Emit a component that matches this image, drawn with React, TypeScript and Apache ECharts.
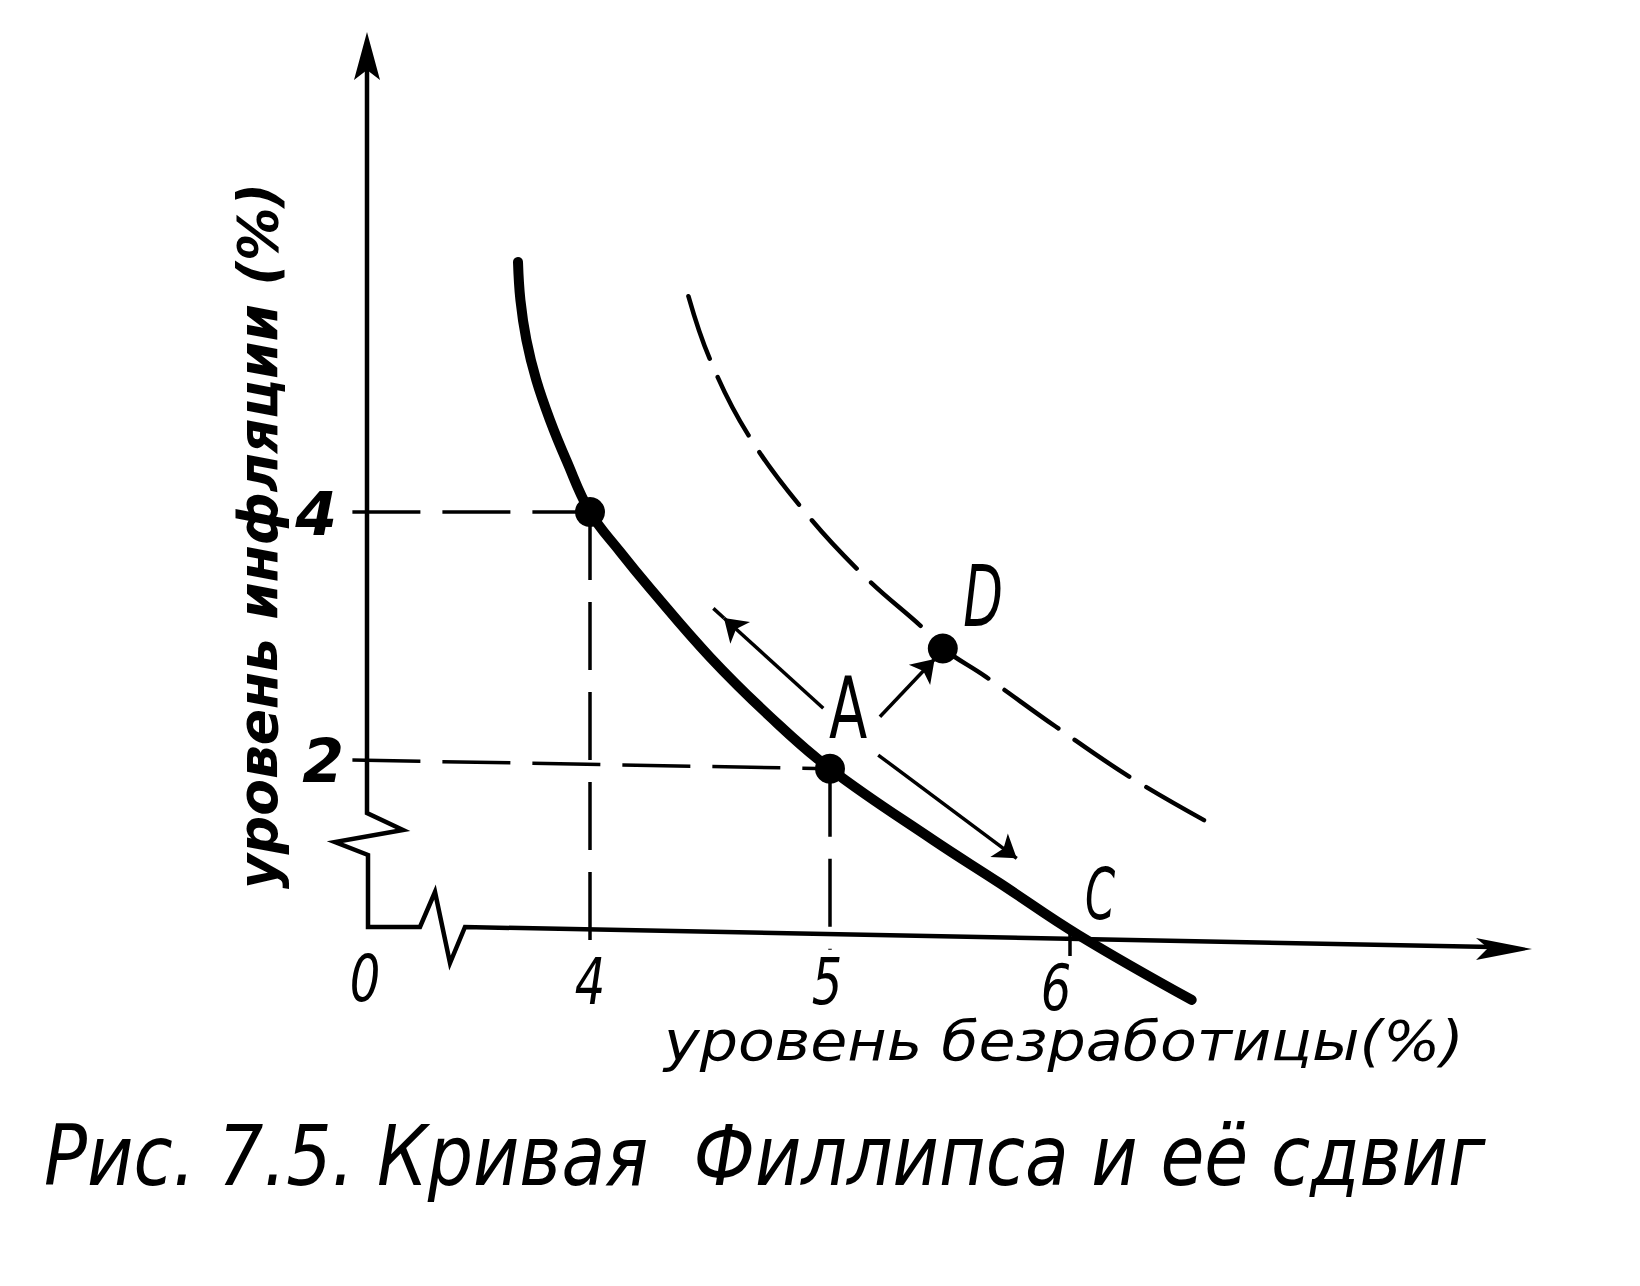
import React, { useEffect, useRef } from 'react';
import * as echarts from 'echarts';

// ---------- data ----------
const xTickLabels = ['0', '4', '5', '6'];
const xTickValues = [null, 4, 5, 6];
const yTickLabels = ['4', '2'];
const yTickValues = [4, 2];

// Phillips curve (solid, thick)
const phillipsCurve: [number, number][] = [
  [3.7, 6.016], [3.71, 5.71], [3.735, 5.387], [3.776, 5.065], [3.833, 4.742],
  [3.901, 4.419], [4.0, 4.0], [4.125, 3.68], [4.25, 3.385], [4.5, 2.83],
  [4.75, 2.35], [5.0, 1.93], [5.43, 1.355], [5.708, 1.006], [6.035, 0.589],
  [6.507, 0.065],
];

// shifted curve (dashed)
const shiftedCurve: [number, number][] = [
  [4.41, 5.74], [4.5, 5.23], [4.66, 4.62], [4.9, 3.99], [5.15, 3.47],
  [5.39, 3.06], [5.47, 2.9], [5.65, 2.67], [5.94, 2.27], [6.26, 1.85],
  [6.61, 1.46],
];

// marked points
const keyPoints: [number, number][] = [[4, 4], [5, 1.93], [5.47, 2.9]];
const pointLabels = ['A', 'D', 'C'];

// arrows
const arrowAlongUp: [number, number][] = [[4.972, 2.417], [4.558, 3.145]];
const arrowAlongUpTail: [number, number][] = [[4.558, 3.145], [4.514, 3.223]];
const arrowAlongDown: [number, number][] = [[5.201, 2.04], [5.778, 1.207]];
const arrowShift: [number, number][] = [[5.208, 2.349], [5.436, 2.815]];

const xTitle = 'уровень безработицы(%)';
const yTitle = 'уровень инфляции (%)';
const caption = 'Рис. 7.5. Кривая  Филлипса и её сдвиг';

// ---------- layout ----------
const W = 1640;
const H = 1286;
const FONT = '"DejaVu Sans", "Noto Sans", sans-serif';

function measure(text: string, font: string): number {
  const c = document.createElement('canvas').getContext('2d');
  if (!c) return 1;
  c.font = font;
  return c.measureText(text).width || 1;
}

export default function App() {
  const ref = useRef<HTMLDivElement>(null);
  useEffect(() => {
    if (!ref.current) return;
    const chart = echarts.init(ref.current, null, { renderer: 'svg' });

    const black = '#000';
    const guideDash = [68, 22];

    const guide = (data: [number, number][], dashed: boolean, width = 3.5) => ({
      type: 'line',
      data,
      showSymbol: false,
      silent: true,
      lineStyle: { color: black, width, type: dashed ? guideDash : 'solid', cap: 'butt', opacity: 1 },
      z: 3,
    });

    const capFont = `italic 84px ${FONT}`;
    const capScale = 1441 / measure(caption, capFont);
    const xtFont = `italic 56px ${FONT}`;
    const xtScale = 800 / measure(xTitle, xtFont);
    const ytFont = `italic bold 56px ${FONT}`;
    const ytScale = 706 / measure(yTitle, ytFont);

    const textEl = (text: string, x: number, y: number, size: number, sx: number, opts: any = {}) => ({
      type: 'text',
      x,
      y,
      scaleX: sx,
      rotation: opts.rotation || 0,
      z: 10,
      style: {
        text,
        fill: black,
        fontSize: size,
        fontFamily: FONT,
        fontStyle: opts.italic === false ? 'normal' : 'italic',
        fontWeight: opts.bold ? 'bold' : 'normal',
        align: opts.align || 'center',
        verticalAlign: 'middle',
      },
    });

    const xLabelPos = [[365, 978], [590, 981], [827, 981], [1056, 987]];
    const yLabelPos = [[316, 514], [323, 761]];
    const pointLabelPos = [[848, 708], [983, 596], [1100, 894]];

    chart.setOption({
      animation: false,
      backgroundColor: '#fff',
      grid: { left: 110, top: 16, width: 1440, height: 992, containLabel: false },
      xAxis: { type: 'value', min: 2, max: 8, show: false },
      yAxis: { type: 'value', min: 0, max: 8, show: false },
      series: [
        guide([[3.01, yTickValues[0]], keyPoints[0]], true),
        guide([keyPoints[0], [xTickValues[1] as number, 0.49]], true),
        guide([[3.01, yTickValues[1]], keyPoints[1]], true),
        guide([keyPoints[1], [xTickValues[2] as number, 0.47]], true),
        guide([[xTickValues[3] as number, 0.62], [xTickValues[3] as number, 0.42]], false),
        {
          type: 'line',
          data: shiftedCurve,
          smooth: 0.4,
          showSymbol: false,
          silent: true,
          lineStyle: { color: black, width: 4.5, type: [66, 20], cap: 'round', opacity: 1 },
          z: 4,
        },
        {
          type: 'line',
          data: phillipsCurve,
          smooth: 0.4,
          showSymbol: false,
          silent: true,
          lineStyle: { color: black, width: 10, cap: 'round', join: 'round', opacity: 1 },
          z: 5,
        },
        {
          type: 'lines',
          coordinateSystem: 'cartesian2d',
          silent: true,
          symbol: ['none', 'arrow'],
          symbolSize: 22,
          lineStyle: { color: black, width: 3.5, curveness: 0, opacity: 1 },
          data: [
            { coords: arrowAlongUp },
            { coords: arrowAlongDown },
            { coords: arrowShift },
          ],
          z: 6,
        },
        guide(arrowAlongUpTail, false),
        {
          type: 'scatter',
          data: keyPoints,
          symbol: 'circle',
          symbolSize: 30,
          silent: true,
          itemStyle: { color: black, opacity: 1 },
          z: 7,
        },
      ],
      graphic: [
        {
          type: 'polyline',
          z: 8,
          shape: {
            points: [
              [367, 70], [367, 813], [403, 830], [335, 842], [368, 855], [368, 927],
              [420, 927], [435, 892], [450, 963], [465, 927], [1492, 947],
            ],
          },
          style: { stroke: black, lineWidth: 4.5, fill: null, lineJoin: 'miter' },
        },
        {
          type: 'polygon',
          z: 8,
          shape: { points: [[367, 32], [354, 80], [367, 70], [380, 80]] },
          style: { fill: black },
        },
        {
          type: 'polygon',
          z: 8,
          shape: { points: [[1532, 949], [1476, 938], [1488, 948], [1476, 960]] },
          style: { fill: black },
        },
        ...xTickLabels.map((t, i) => textEl(t, xLabelPos[i][0], xLabelPos[i][1], 64, 0.75)),
        ...yTickLabels.map((t, i) => textEl(t, yLabelPos[i][0], yLabelPos[i][1], 60, 1.0, { bold: true })),
        ...pointLabels.map((t, i) =>
          textEl(t, pointLabelPos[i][0], pointLabelPos[i][1], i === 2 ? 72 : 86, i === 0 ? 0.65 : 0.6, { italic: i !== 0 })
        ),
        textEl(xTitle, 664, 1041, 56, xtScale, { align: 'left' }),
        textEl(yTitle, 258, 536, 56, ytScale, { rotation: Math.PI / 2, bold: true }),
        textEl(caption, 44, 1156, 84, capScale, { align: 'left' }),
      ],
    });

    return () => chart.dispose();
  }, []);

  return (
    <div
      ref={ref}
      style={{ position: 'absolute', left: 0, top: 0, width: W, height: H, background: '#fff' }}
    />
  );
}
